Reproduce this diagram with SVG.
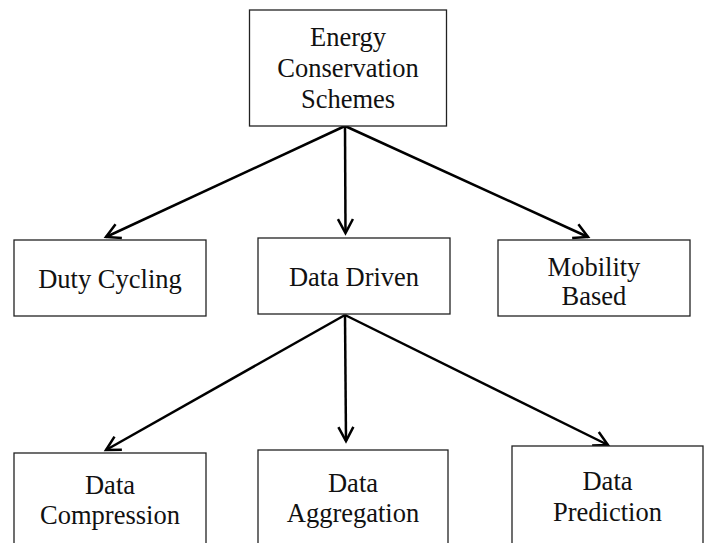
<svg xmlns="http://www.w3.org/2000/svg" width="711" height="543" viewBox="0 0 711 543">
  <style>
    .box { fill: #ffffff; stroke: #222222; stroke-width: 1.3; }
    .lbl { font-size: 26.5px; fill: #111111; text-anchor: middle; }
    .edge { stroke: #000000; stroke-width: 2.5; fill: none; marker-end: url(#arrow); }
  </style>
  <defs>
    <marker id="arrow" markerUnits="userSpaceOnUse" markerWidth="20" markerHeight="20" viewBox="-16 -10 20 20" refX="0" refY="0" orient="auto" overflow="visible">
      <path d="M -14 -7.5 L 0 0 L -14 7.5" fill="none" stroke="#000000" stroke-width="2.5" stroke-linejoin="miter"/>
    </marker>
  </defs>
  <rect width="711" height="543" fill="#ffffff"/>

  <g id="connectors">
    <line class="edge" x1="345" y1="126" x2="106" y2="237"/>
    <line class="edge" x1="345" y1="126" x2="345.5" y2="233"/>
    <line class="edge" x1="345" y1="126" x2="588" y2="237"/>
    <line class="edge" x1="345" y1="315" x2="106" y2="450"/>
    <line class="edge" x1="345" y1="315" x2="346" y2="441"/>
    <line class="edge" x1="345" y1="315" x2="608" y2="445"/>
  </g>

  <g font-family="'Liberation Serif', 'Times New Roman', 'DejaVu Serif', serif">
  <g id="energy">
    <rect class="box" x="249.5" y="10" width="197" height="116"/>
    <text class="lbl" x="348" y="46">Energy</text>
    <text class="lbl" x="348" y="77">Conservation</text>
    <text class="lbl" x="348" y="108">Schemes</text>
  </g>

  <g id="duty">
    <rect class="box" x="14" y="240" width="192" height="76"/>
    <text class="lbl" x="110" y="288">Duty Cycling</text>
  </g>

  <g id="datadriven">
    <rect class="box" x="258" y="238" width="192" height="76"/>
    <text class="lbl" x="354" y="286">Data Driven</text>
  </g>

  <g id="mobility">
    <rect class="box" x="498" y="240" width="192" height="76"/>
    <text class="lbl" x="594" y="276">Mobility</text>
    <text class="lbl" x="594" y="305">Based</text>
  </g>

  <g id="compression">
    <rect class="box" x="14" y="453" width="192" height="100"/>
    <text class="lbl" x="110" y="494">Data</text>
    <text class="lbl" x="110" y="524">Compression</text>
  </g>

  <g id="aggregation">
    <rect class="box" x="258" y="450" width="190" height="103"/>
    <text class="lbl" x="353" y="492">Data</text>
    <text class="lbl" x="353" y="522">Aggregation</text>
  </g>

  <g id="prediction">
    <rect class="box" x="512" y="446" width="191" height="107"/>
    <text class="lbl" x="607.5" y="490">Data</text>
    <text class="lbl" x="607.5" y="521">Prediction</text>
  </g>
  </g>
</svg>
